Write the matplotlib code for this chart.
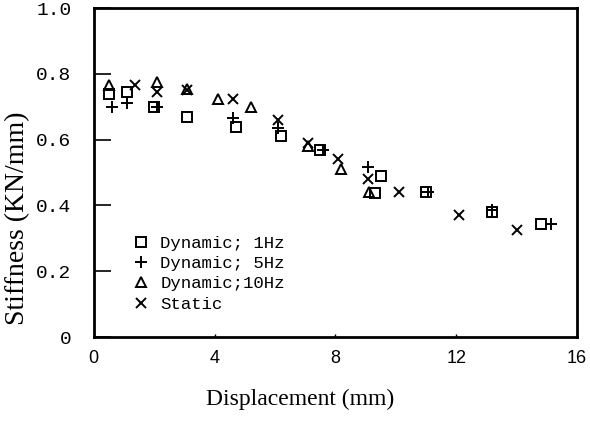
import matplotlib
matplotlib.use("Agg")
import matplotlib.pyplot as plt

# values
dyn1_x = [0.5, 1.1, 2.0, 3.1, 4.7, 6.2, 7.5, 9.5, 9.3, 11.0, 13.2, 14.8]
dyn1_y = [0.74, 0.745, 0.70, 0.67, 0.64, 0.61, 0.57, 0.49, 0.437, 0.44, 0.38, 0.345]

dyn5_x = [0.6, 1.1, 2.1, 4.6, 6.1, 7.6, 9.07, 11.05, 13.2, 15.15]
dyn5_y = [0.70, 0.71, 0.70, 0.665, 0.635, 0.57, 0.517, 0.44, 0.385, 0.345]

dyn10_x = [0.5, 2.1, 3.1, 4.1, 5.2, 7.1, 8.2, 9.1]
dyn10_y = [0.765, 0.775, 0.755, 0.725, 0.70, 0.58, 0.51, 0.44]

static_x = [1.35, 2.1, 3.1, 4.6, 6.1, 7.1, 8.1, 9.07, 10.1, 12.1, 14.0]
static_y = [0.765, 0.745, 0.75, 0.725, 0.66, 0.59, 0.54, 0.48, 0.44, 0.37, 0.325]

labels = ["Dynamic; 1Hz", "Dynamic; 5Hz", "Dynamic;10Hz", "Static"]
xticks = [0, 4, 8, 12, 16]
yticks = [0, 0.2, 0.4, 0.6, 0.8, 1.0]
ytick_labels = ["0", "0.2", "0.4", "0.6", "0.8", "1.0"]

fig = plt.figure(figsize=(5.9, 4.23), dpi=100)
ax = fig.add_axes([0.159, 0.203, 0.819, 0.778])

kw = dict(linestyle="none", color="black", markerfacecolor="none", markeredgewidth=1.4)
ax.plot(dyn1_x, dyn1_y, marker="s", markersize=6.5, label=labels[0], **kw)
ax.plot(dyn5_x, dyn5_y, marker="+", markersize=9, label=labels[1], **kw)
ax.plot(dyn10_x, dyn10_y, marker="^", markersize=7, label=labels[2], **kw)
ax.plot(static_x, static_y, marker="x", markersize=6.5, label=labels[3], **kw)

ax.set_xlim(0, 16)
ax.set_ylim(0, 1.0)
ax.set_xticks(xticks)
ax.set_xticklabels([str(t) for t in xticks], family="Liberation Sans", fontsize=13)
ax.set_yticks(yticks)
ax.set_yticklabels(ytick_labels, family="Liberation Mono", fontsize=14)
ax.tick_params(axis="y", direction="in", length=12, width=1.2, pad=16)
ax.tick_params(axis="x", direction="in", length=2, width=1, pad=9)
for s in ax.spines.values():
    s.set_linewidth(2)

fig.text(0.029, 0.485, "Stiffness (KN/mm)", rotation=90, ha="center", va="center",
         family="Liberation Serif", fontsize=20)
fig.text(0.508, 0.055, "Displacement (mm)", ha="center", va="center",
         family="Liberation Serif", fontsize=17)

ax.legend(loc="lower left", bbox_to_anchor=(0.055, 0.04), frameon=False,
          prop={"family": "Liberation Mono", "size": 12.5}, handlelength=1.0,
          handletextpad=0.6, labelspacing=0.3, borderpad=0.2)

fig.savefig("out.png", dpi=100)
